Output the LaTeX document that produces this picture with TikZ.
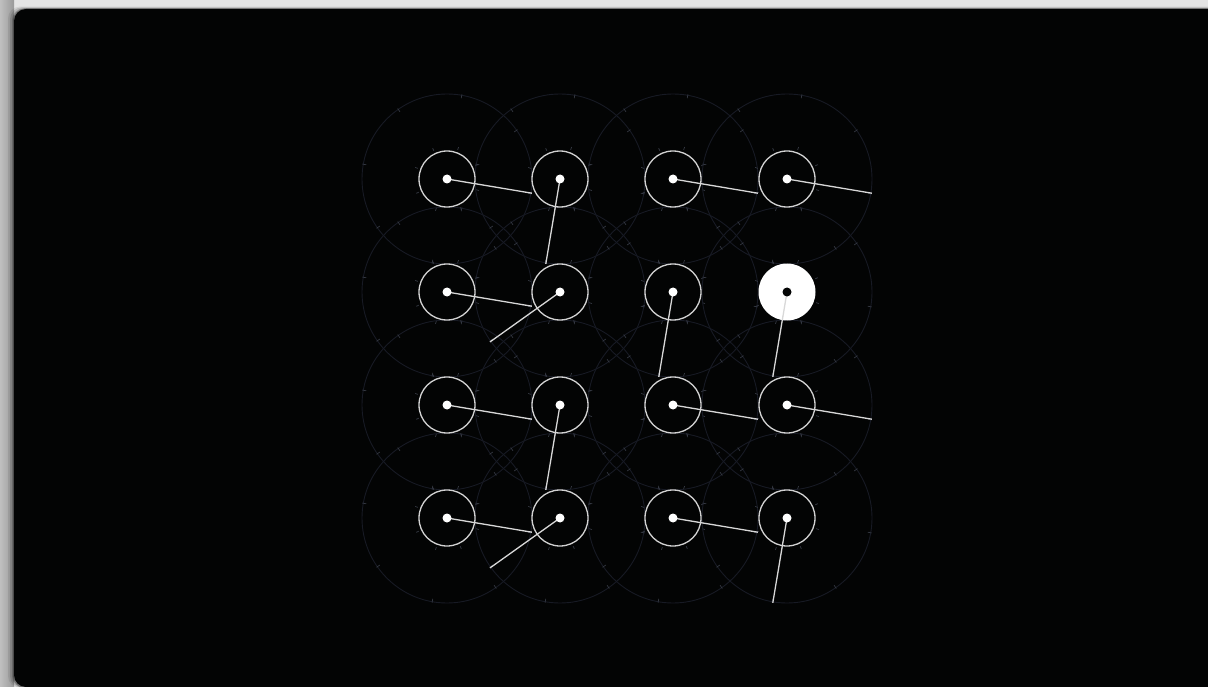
\documentclass[tikz,border=0pt]{standalone}
\usetikzlibrary{calc}
\definecolor{bgpaper}{HTML}{E4E4E4}
\definecolor{panel}{HTML}{030404}
\definecolor{faint}{HTML}{171A24}
\definecolor{faintick}{HTML}{343842}
\definecolor{ringcol}{HTML}{D2D2D2}
\definecolor{handcol}{HTML}{D8D8D8}
\begin{document}
\begin{tikzpicture}[x=1pt,y=-1pt,
  dial/.style={circle,draw=ringcol,line width=1.3pt,minimum size=56pt,inner sep=0pt},
  dialon/.style={circle,fill=white,minimum size=57pt,inner sep=0pt},
  hub/.style={circle,fill=white,minimum size=9pt,inner sep=0pt},
  hubon/.style={circle,fill=panel,minimum size=9pt,inner sep=0pt},
  hand/.style={draw=handcol,line width=1.3pt},
  bigring/.style={draw=faint,line width=0.9pt},
  tickmark/.style={draw=faintick,line width=0.7pt}]
\useasboundingbox (0,0) rectangle (1208,687);
\fill[bgpaper] (0,0) rectangle (1208,687);
\fill[left color=black!25,right color=black!40] (0,0) rectangle (14,687);
\foreach \o/\op in {6/0.08,4/0.12,2/0.18,1/0.25}{
  \fill[black,opacity=\op,rounded corners=12pt] (14-\o,9-\o*0.4) rectangle (1230,688);
}
\fill[panel,rounded corners=12pt] (14,9) rectangle (1230,687);
% faint big rings and ticks
\foreach \i/\x in {1/447,2/560,3/673,4/787}{
  \foreach \j/\y in {1/179,2/292,3/405,4/518}{
    \draw[bigring] (\x,\y) circle[radius=85];
    \foreach \k in {0,...,7}{
      \pgfmathsetmacro\a{10+45*\k}
      \draw[tickmark] ($(\x,\y)+({82*cos(\a)},{82*sin(\a)})$) -- ($(\x,\y)+({86*cos(\a)},{86*sin(\a)})$);
      \pgfmathsetmacro\b{20+45*\k}
      \draw[tickmark] ($(\x,\y)+({31*cos(\b)},{31*sin(\b)})$) -- ($(\x,\y)+({34*cos(\b)},{34*sin(\b)})$);
    }
  }
}
% dials
\foreach \i/\x in {1/447,2/560,3/673,4/787}{
  \foreach \j/\y in {1/179,2/292,3/405,4/518}{
    \ifnum\i=4 \ifnum\j=2 \else
      \node[dial] (d\i\j) at (\x,\y) {};
    \fi\else
      \node[dial] (d\i\j) at (\x,\y) {};
    \fi
  }
}
\node[dialon] (d42) at (787,292) {};
% hands: column/row/angle
\foreach \i/\j/\a in {1/1/9.5,2/1/99.5,3/1/9.5,4/1/9.5,
                      1/2/9.5,2/2/144.5,3/2/99.5,4/2/99.5,
                      1/3/9.5,2/3/99.5,3/3/9.5,4/3/9.5,
                      1/4/9.5,2/4/144.5,3/4/9.5,4/4/99.5}{
  \coordinate (t\i\j) at ($(d\i\j.center)+({86*cos(\a)},{86*sin(\a)})$);
  \draw[hand] (d\i\j.center) -- (t\i\j);
}
% hubs
\foreach \i in {1,2,3,4}{
  \foreach \j in {1,2,3,4}{
    \ifnum\i=4 \ifnum\j=2
      \node[hubon] (h\i\j) at (d\i\j.center) {};
    \else
      \node[hub] (h\i\j) at (d\i\j.center) {};
    \fi\else
      \node[hub] (h\i\j) at (d\i\j.center) {};
    \fi
  }
}
\end{tikzpicture}
\end{document}
